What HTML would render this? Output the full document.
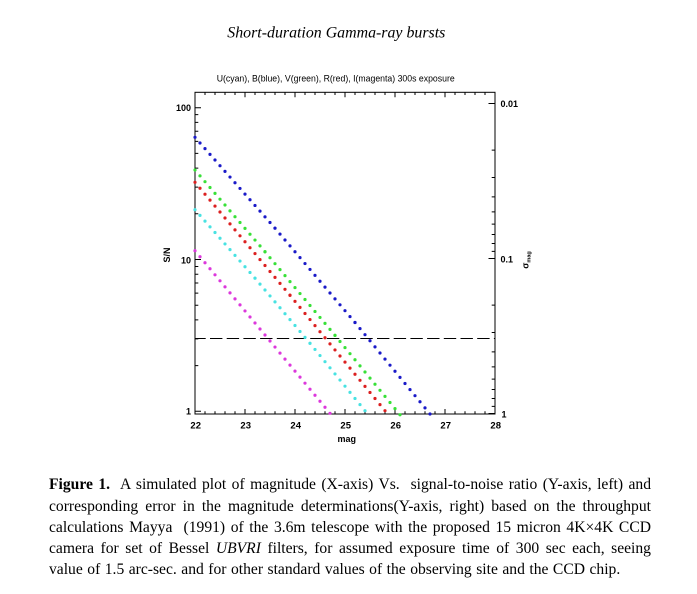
<!DOCTYPE html>
<html><head><meta charset="utf-8">
<style>
html,body{margin:0;padding:0;background:#fff;}
body{width:697px;height:594px;position:relative;overflow:hidden;}
svg{position:absolute;left:0;top:0;}
.cap{position:absolute;left:49px;width:602px;font-family:"Liberation Serif",serif;font-size:15.6px;line-height:19px;color:#000;text-align:justify;text-align-last:justify;}
.last{text-align:left;text-align-last:left;word-spacing:0.6px;}
</style></head>
<body>
<svg width="697" height="594" viewBox="0 0 697 594" xmlns="http://www.w3.org/2000/svg">
<text x="227.3" y="37.7" font-family="Liberation Serif, serif" font-style="italic" font-size="15.5" textLength="218" lengthAdjust="spacingAndGlyphs">Short-duration Gamma-ray bursts</text>
<text x="216.7" y="81.5" font-family="Liberation Sans, Arial, sans-serif" font-size="9" textLength="238" lengthAdjust="spacingAndGlyphs">U(cyan), B(blue), V(green), R(red), I(magenta) 300s exposure</text>

<rect x="195" y="92.3" width="300" height="321.7" fill="none" stroke="#000" stroke-width="1"/>

<g stroke="#000" stroke-width="1" fill="none">
<path d="M205 414v-2.7M215 414v-2.7M225 414v-2.7M235 414v-2.7M255 414v-2.7M265 414v-2.7M275 414v-2.7M285 414v-2.7M305 414v-2.7M315 414v-2.7M325 414v-2.7M335 414v-2.7M355 414v-2.7M365 414v-2.7M375 414v-2.7M385 414v-2.7M405 414v-2.7M415 414v-2.7M425 414v-2.7M435 414v-2.7M455 414v-2.7M465 414v-2.7M475 414v-2.7M485 414v-2.7"/>
<path d="M245 414v-5M295 414v-5M345 414v-5M395 414v-5M445 414v-5"/>
<path d="M205 92.3v2.7M215 92.3v2.7M225 92.3v2.7M235 92.3v2.7M255 92.3v2.7M265 92.3v2.7M275 92.3v2.7M285 92.3v2.7M305 92.3v2.7M315 92.3v2.7M325 92.3v2.7M335 92.3v2.7M355 92.3v2.7M365 92.3v2.7M375 92.3v2.7M385 92.3v2.7M405 92.3v2.7M415 92.3v2.7M425 92.3v2.7M435 92.3v2.7M455 92.3v2.7M465 92.3v2.7M475 92.3v2.7M485 92.3v2.7"/>
<path d="M245 92.3v5M295 92.3v5M345 92.3v5M395 92.3v5M445 92.3v5"/>
<path d="M195 107.7h6M195 259.5h6M195 411.3h6"/>
<path d="M195 365.6h3.3M195 338.87h3.3M195 319.91h3.3M195 305.2h3.3M195 293.18h3.3M195 283.01h3.3M195 274.21h3.3M195 266.45h3.3M195 213.8h3.3M195 187.07h3.3M195 168.11h3.3M195 153.4h3.3M195 141.38h3.3M195 131.21h3.3M195 122.41h3.3M195 114.65h3.3"/>
<path d="M495 103.5h-6.5M495 258.5h-6.5M495 413.5h-6.5"/>
<path d="M495 150.16h-3.3M495 177.45h-3.3M495 196.82h-3.3M495 211.84h-3.3M495 224.11h-3.3M495 234.49h-3.3M495 243.48h-3.3M495 251.41h-3.3M495 305.16h-3.3M495 332.45h-3.3M495 351.82h-3.3M495 366.84h-3.3M495 379.11h-3.3M495 389.49h-3.3M495 398.48h-3.3M495 406.41h-3.3"/>
</g>

<path d="M195 338.5H495" stroke="#000" stroke-width="1" stroke-dasharray="12.4 4.3" stroke-dashoffset="1.7" fill="none"/>

<g fill="none" stroke-width="3.2" stroke-linecap="round" stroke-dasharray="0 1">
<path d="M195 137.3L275 228.18" pathLength="16.001" stroke="#1a1ac8"/>
<path d="M275 228.18L355 322.48" pathLength="16.001" stroke="#1a1ac8"/>
<path d="M355 322.48L430 413.97" pathLength="15.001" stroke="#1a1ac8"/>
<path d="M195 170L265 251.73" pathLength="14.001" stroke="#38e038"/>
<path d="M265 251.73L335 335.36" pathLength="14.001" stroke="#38e038"/>
<path d="M335 335.36L400 414.73" pathLength="13.001" stroke="#38e038"/>
<path d="M195 182.3L290 295.25" pathLength="19.001" stroke="#dc2020"/>
<path d="M290 295.25L385 410.68" pathLength="19.001" stroke="#dc2020"/>
<path d="M195 209.7L255 278.17" pathLength="12.001" stroke="#48e2e2"/>
<path d="M255 278.17L310 343.3" pathLength="11.001" stroke="#48e2e2"/>
<path d="M310 343.3L365 410.7" pathLength="11.001" stroke="#48e2e2"/>
<path d="M195 250.7L330 413.3" pathLength="27.001" stroke="#dc38dc"/>
</g>

<g font-family="Liberation Sans, Arial, sans-serif" font-weight="bold" fill="#000">
<text x="191" y="111" font-size="9" text-anchor="end">100</text>
<text x="191" y="263.5" font-size="9" text-anchor="end">10</text>
<text x="191" y="414.5" font-size="9" text-anchor="end">1</text>
<text x="500.5" y="107" font-size="9">0.01</text>
<text x="500.5" y="262.5" font-size="9">0.1</text>
<text x="501.5" y="417.5" font-size="9">1</text>
<g font-size="9.5" text-anchor="middle">
<text x="195.7" y="428.7">22</text>
<text x="245.7" y="428.7">23</text>
<text x="295.7" y="428.7">24</text>
<text x="345.7" y="428.7">25</text>
<text x="395.7" y="428.7">26</text>
<text x="445.7" y="428.7">27</text>
<text x="495.7" y="428.7">28</text>
</g>
<text x="346.7" y="442" font-size="9" text-anchor="middle">mag</text>
<text transform="translate(170,255) rotate(-90)" x="0" y="0" font-size="9" text-anchor="middle">S/N</text>
<text transform="translate(528.5,260) rotate(-90)" x="0" y="0" font-size="9" text-anchor="middle">σ<tspan font-size="5.5" dy="2">mag</tspan></text>
</g>
</svg>

<div class="cap" style="top:475.3px;"><b>Figure 1.</b>&nbsp; A simulated plot of magnitude (X-axis) Vs.&nbsp; signal-to-noise ratio (Y-axis, left) and</div>
<div class="cap" style="top:496.5px;">corresponding error in the magnitude determinations(Y-axis, right) based on the throughput</div>
<div class="cap" style="top:517.7px;">calculations Mayya&nbsp; (1991) of the 3.6m telescope with the proposed 15 micron 4K×4K CCD</div>
<div class="cap" style="top:538.9px;">camera for set of Bessel <i>UBVRI</i> filters, for assumed exposure time of 300 sec each, seeing</div>
<div class="cap last" style="top:560.1px;">value of 1.5 arc-sec. and for other standard values of the observing site and the CCD chip.</div>
</body></html>
